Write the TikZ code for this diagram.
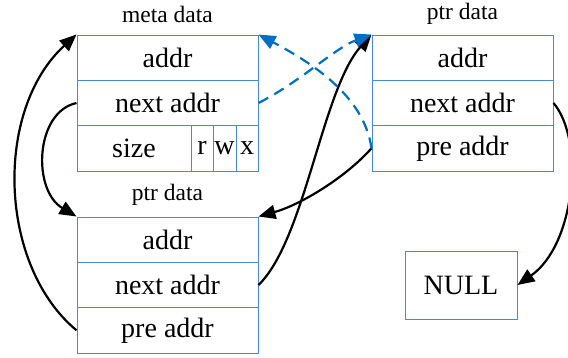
\documentclass[tikz,border=0pt]{standalone}
\usepackage{fontspec}
\setmainfont{Liberation Serif}
\usetikzlibrary{arrows.meta}
\definecolor{boxblue}{RGB}{66,140,215}
\definecolor{dashblue}{RGB}{0,110,195}
\begin{document}
\begin{tikzpicture}[x=1pt,y=-1pt,
  cell/.style={draw=boxblue,line width=1pt,inner sep=0pt,minimum height=45.4pt,
    font=\fontsize{28}{30}\selectfont},
  wide/.style={cell,minimum width=181pt},
  title/.style={inner sep=0pt,font=\fontsize{23.5}{26}\selectfont},
  link/.style={line width=2.2pt,-{Triangle[length=17pt,width=14pt]}},
  dlink/.style={draw=dashblue,line width=2.2pt,dash pattern=on 11pt off 7pt,
    -{Triangle[length=17pt,width=14pt]},dashblue}]
\useasboundingbox (0,0) rectangle (568,357);
% meta data
\node[title] (tmeta) at (167.5,14) {meta data};
\node[wide] (ma) at (167.5,57.7) {addr};
\node[wide] (mn) at (167.5,103) {next addr};
\node[cell,minimum width=114pt] (ms) at (134,148.3) {size};
\node[cell,minimum width=22pt] (mr) at (202,148.3) {r};
\node[cell,minimum width=23pt] (mw) at (224.5,148.3) {w};
\node[cell,minimum width=22pt] (mx) at (247,148.3) {x};
% right ptr data
\node[title] (tright) at (462.5,14) {ptr data};
\node[wide] (ra) at (462.5,57.7) {addr};
\node[wide] (rn) at (462.5,103) {next addr};
\node[wide] (rp) at (462.5,148.3) {pre addr};
% bottom ptr data
\node[title] (tbot) at (167.5,195) {ptr data};
\node[wide] (ba) at (167.5,239.7) {addr};
\node[wide] (bn) at (167.5,285) {next addr};
\node[wide] (bp) at (167.5,330.3) {pre addr};
% NULL
\node[cell,minimum width=112pt,minimum height=68pt] (null) at (461,285) {NULL};
% connectors
\draw[link] (mn.west) .. controls (35,112) and (32,190) .. (ba.north west);
\draw[link] (bp.west) .. controls (-2,265) and (-6,110) .. (ma.north west);
\draw[link] (bn.east) .. controls (305,240) and (322,90) .. (ra.north west);
\draw[link] (rp.west) .. controls (345,178) and (300,205) .. (ba.north east);
\draw[link] (rn.east) .. controls (585,140) and (575,245) .. (null.east);
\draw[dlink] (mn.east) .. controls (300,82) and (335,48) .. (ra.north west);
\draw[dlink] (rp.west) .. controls (364,95) and (310,62) .. (ma.north east);
\end{tikzpicture}
\end{document}
